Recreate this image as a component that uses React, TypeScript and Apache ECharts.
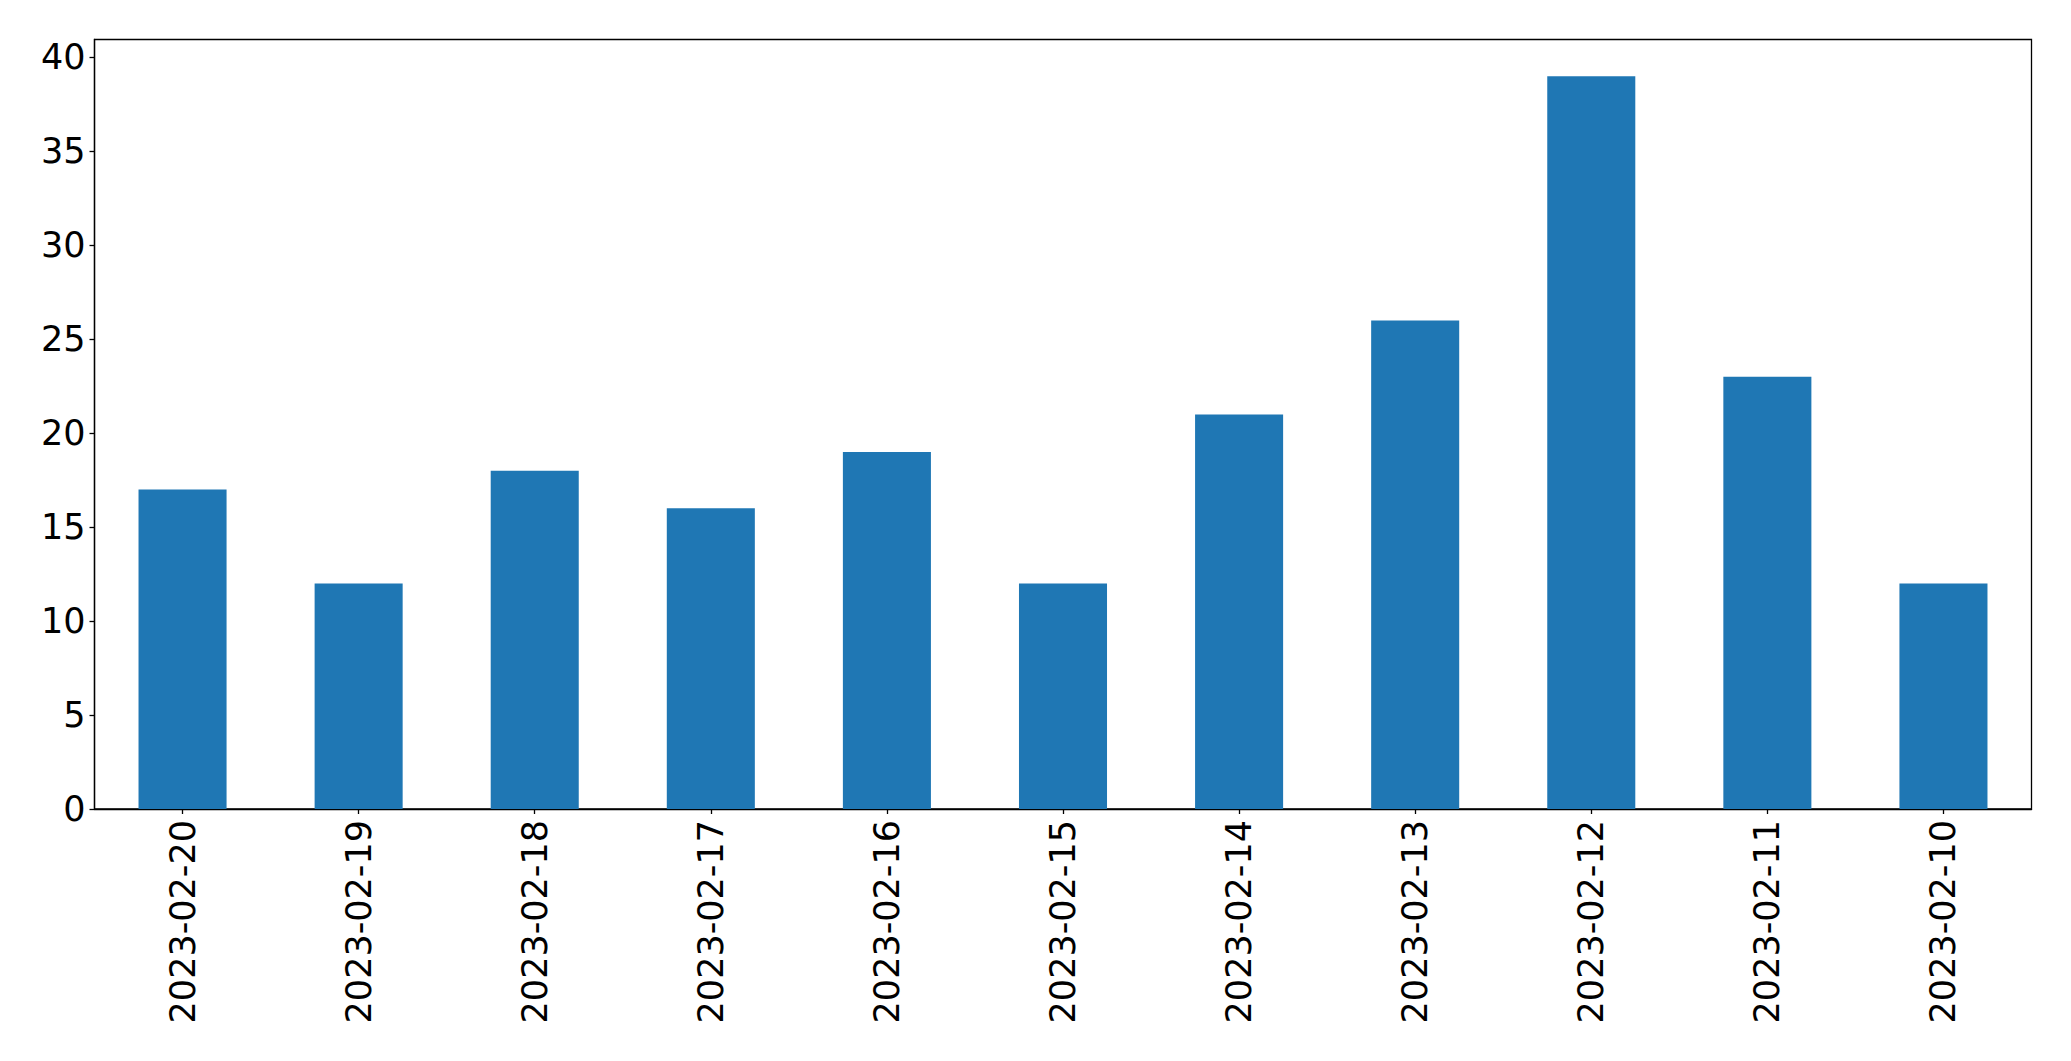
import React, { useEffect, useRef } from "react";
import * as echarts from "echarts";

const categories = [
  "2023-02-20", "2023-02-19", "2023-02-18", "2023-02-17", "2023-02-16", "2023-02-15",
  "2023-02-14", "2023-02-13", "2023-02-12", "2023-02-11", "2023-02-10",
];
const counts = [17, 12, 18, 16, 19, 12, 21, 26, 39, 23, 12];
const yMax = 40.95;

export default function App() {
  const ref = useRef<HTMLDivElement>(null);
  useEffect(() => {
    if (!ref.current) return;
    const chart = echarts.init(ref.current, undefined, { renderer: "svg" });
    const font = "DejaVu Sans";
    chart.setOption({
      animation: false,
      backgroundColor: "#ffffff",
      grid: {
        left: 94.5,
        top: 39.5,
        right: 39.5,
        bottom: 252,
        show: true,
        borderColor: "#000000",
        borderWidth: 1.3,
        backgroundColor: "transparent",
      },
      xAxis: {
        type: "category",
        data: categories,
        axisLine: { show: true, lineStyle: { color: "#000000", width: 1.3 } },
        axisTick: { show: true, alignWithLabel: true, length: 5, lineStyle: { color: "#000000", width: 1.3 } },
        axisLabel: { rotate: 90, fontSize: 35, fontFamily: font, color: "#000000", margin: 11 },
        splitLine: { show: false },
      },
      yAxis: {
        type: "value",
        min: 0,
        max: yMax,
        interval: 5,
        axisLine: { show: true, lineStyle: { color: "#000000", width: 1.3 } },
        axisTick: { show: true, length: 5, lineStyle: { color: "#000000", width: 1.3 } },
        axisLabel: { fontSize: 35, fontFamily: font, color: "#000000", margin: 9, showMaxLabel: false },
        splitLine: { show: false },
      },
      series: [
        {
          type: "bar",
          data: counts,
          barWidth: "50%",
          itemStyle: { color: "#1f77b4" },
        },
      ],
    });
    return () => chart.dispose();
  }, []);
  return (
    <div
      ref={ref}
      style={{ position: "fixed", left: 0, top: 0, width: 2071, height: 1061, background: "#fff" }}
    />
  );
}
